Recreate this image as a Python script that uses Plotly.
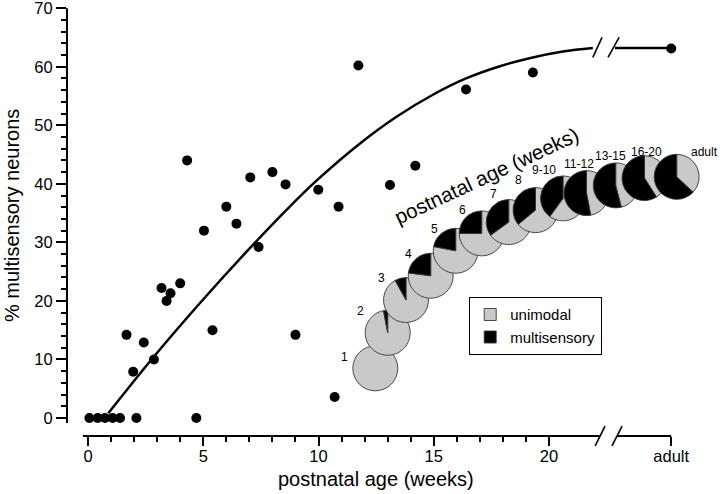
import plotly.graph_objects as go

# ---------------- data ----------------
age_weeks = [0.06, 0.42, 0.74, 1.07, 1.39, 1.67, 1.96, 2.10, 2.42, 2.86, 3.19, 3.41,
             3.58, 4.00, 4.30, 4.70, 5.03, 5.40, 6.00, 6.44, 7.04, 7.40, 8.00, 8.57,
             9.00, 9.99, 10.70, 10.87, 11.73, 13.10, 14.20, 16.40, 19.30]
pct_multisensory = [0, 0, 0, 0, 0, 14.2, 7.9, 0, 12.9, 10.0, 22.2, 20.0,
                    21.3, 23.0, 44.0, 0, 32.0, 15.0, 36.1, 33.2, 41.1, 29.2, 42.0, 39.9,
                    14.2, 39.0, 3.6, 36.1, 60.2, 39.8, 43.1, 56.1, 59.0]
adult_pct = 63.1

fit_x = [0.88, 2.8, 4.85, 6.9, 8.7, 9.9, 11.8, 13.4, 15.0, 16.4, 17.8, 19.2, 20.6, 21.9]
fit_y = [0.8, 10.2, 19.6, 28.5, 35.9, 40.5, 46.9, 51.5, 55.3, 58.0, 60.0, 61.5, 62.6, 63.2]
fit_adult = 63.2

pie_groups = ['1', '2', '3', '4', '5', '6', '7', '8', '9-10', '11-12', '13-15', '16-20', 'adult']
pie_multisensory = [0, 3, 8, 23, 22, 25, 35, 36, 40, 53, 54, 59, 63]
pie_unimodal = [100 - v for v in pie_multisensory]
slice_names = ['unimodal', 'multisensory']

x_tick_vals = [0, 5, 10, 15, 20]
x_tick_text = ['0', '5', '10', '15', '20', 'adult']
y_tick_vals = [0, 10, 20, 30, 40, 50, 60, 70]

# ---------------- layout constants ----------------
W, H = 720, 494
ML, MR, MB = 67, 8, 58
YR = [-3.073, 70.2]
PX_PER_Y = 5.857
MT = 8 - (YR[1] - 70) * PX_PER_Y      # keep the 70 tick at 8 px from the top
PW, PH = W - ML - MR, H - MT - MB
XR = [-0.911, 27.07]
ADULT_X = 25.3          # position of the "adult" category on the broken axis
AXIS_GAP = (22.2, 22.95)
FIT_RESUME = 22.86
FONT = "Liberation Sans, Arial, Helvetica, sans-serif"
GRAY = '#c9c9c9'


def xpaper(v):
    return (v - XR[0]) / (XR[1] - XR[0])


def ypaper(v):
    return (v - YR[0]) / (YR[1] - YR[0])


def px_x(p):
    return (p - ML) / PW


def px_y(p):
    return (H - MB - p) / PH


# pie inset placement (pixel centres) and label placement
PIE_R = 22.5
pie_centers = [(375.3, 368.3), (387.7, 332.7), (406, 300), (430.7, 275.7), (455.7, 250.7),
               (481.7, 233.3), (508.7, 222), (535.5, 210), (563, 198.3), (586.5, 193),
               (615.7, 185.3), (644.5, 178), (676.7, 176.7)]
label_pos = [(344, 357), (360, 311), (381, 278), (408, 253.5), (434.3, 229.3), (462.3, 210),
             (493.5, 193.5), (518.5, 180), (544, 170), (579, 163.5), (610, 155.5),
             (646, 152), (704, 152)]

fig = go.Figure()

# fitted curve
fig.add_trace(go.Scatter(x=fit_x, y=fit_y, mode='lines', line=dict(color='black', width=2.5, shape='spline'),
                         hoverinfo='skip', showlegend=False))
fig.add_trace(go.Scatter(x=[FIT_RESUME, ADULT_X], y=[fit_adult, fit_adult], mode='lines',
                         line=dict(color='black', width=2.5), hoverinfo='skip', showlegend=False))
# data points
fig.add_trace(go.Scatter(x=age_weeks, y=pct_multisensory, mode='markers',
                         marker=dict(color='black', size=10), showlegend=False))
fig.add_trace(go.Scatter(x=[ADULT_X], y=[adult_pct], mode='markers',
                         marker=dict(color='black', size=10), showlegend=False))

# pies
for i, (g, u, m) in enumerate(zip(pie_groups, pie_unimodal, pie_multisensory)):
    cx, cy = pie_centers[i]
    fig.add_trace(go.Pie(
        labels=slice_names, values=[u, m], sort=False, direction='clockwise', rotation=0,
        textinfo='none', hoverinfo='label+percent', name=g,
        marker=dict(colors=[GRAY, 'black'],
                    line=dict(color='#383838', width=[0.9, 0.9 if m > 0 else 0])),
        domain=dict(x=[px_x(cx - PIE_R), px_x(cx + PIE_R)], y=[px_y(cy + PIE_R), px_y(cy - PIE_R)]),
        showlegend=(i == len(pie_groups) - 1),
    ))

annotations = []
for g, (lx, ly) in zip(pie_groups, label_pos):
    annotations.append(dict(text=g, x=px_x(lx), y=px_y(ly), xref='paper', yref='paper',
                            showarrow=False, font=dict(size=12, color='black', family=FONT),
                            xanchor='center', yanchor='middle'))
annotations.append(dict(text='postnatal age (weeks)', x=px_x(486.5), y=px_y(175), xref='paper', yref='paper',
                        showarrow=False, textangle=-25, font=dict(size=20.5, color='black', family=FONT),
                        xanchor='center', yanchor='middle'))
annotations.append(dict(text='postnatal age (weeks)', x=px_x(375.5), y=px_y(479), xref='paper', yref='paper',
                        showarrow=False, font=dict(size=20, color='black', family=FONT),
                        xanchor='center', yanchor='middle'))
annotations.append(dict(text='% multisensory neurons', x=px_x(12), y=px_y(216), xref='paper', yref='paper',
                        showarrow=False, textangle=-90, font=dict(size=20, color='black', family=FONT),
                        xanchor='center', yanchor='middle'))

ln = dict(color='black', width=2)
shapes = [
    # y axis line
    dict(type='line', xref='paper', yref='paper', x0=0, x1=0, y0=ypaper(-0.85), y1=ypaper(70), line=ln),
    # x axis line with break
    dict(type='line', xref='paper', yref='paper', x0=xpaper(-0.22), x1=xpaper(AXIS_GAP[0]), y0=0, y1=0, line=ln),
    dict(type='line', xref='paper', yref='paper', x0=xpaper(AXIS_GAP[1]), x1=xpaper(ADULT_X), y0=0, y1=0, line=ln),
    dict(type='line', xref='paper', yref='paper', x0=xpaper(22.0), x1=xpaper(22.43), y0=-0.023, y1=0.023,
         line=dict(color='black', width=1.6)),
    dict(type='line', xref='paper', yref='paper', x0=xpaper(22.73), x1=xpaper(23.17), y0=-0.023, y1=0.023,
         line=dict(color='black', width=1.6)),
    # break marks on the fitted curve
    dict(type='line', xref='x', yref='y', x0=21.9, x1=22.3, y0=61.6, y1=65.0, line=dict(color='black', width=1.6)),
    dict(type='line', xref='x', yref='y', x0=22.56, x1=23.04, y0=61.6, y1=65.0, line=dict(color='black', width=1.6)),
]

fig.update_layout(
    width=W, height=H,
    margin=dict(l=ML, r=MR, t=MT, b=MB, autoexpand=False),
    paper_bgcolor='white', plot_bgcolor='white',
    font=dict(family=FONT, color='black', size=16.5),
    xaxis=dict(range=XR, showgrid=False, zeroline=False, showline=False, automargin=False,
               tickmode='array', tickvals=x_tick_vals + [ADULT_X], ticktext=x_tick_text,
               ticks='outside', ticklen=9, tickwidth=1.5, tickcolor='black', ticklabeloverflow='allow',
               ticklabelstandoff=-4,
               tickfont=dict(size=16.5, family=FONT, color='black'),
               minor=dict(tickmode='array', tickvals=list(range(0, 21)), ticks='outside', ticklen=5,
                          tickwidth=1.5, tickcolor='black', showgrid=False)),
    yaxis=dict(range=YR, showgrid=False, zeroline=False, showline=False, automargin=False,
               tickmode='array', tickvals=y_tick_vals,
               ticks='outside', ticklen=10, tickwidth=1.5, tickcolor='black', ticklabeloverflow='allow',
               tickfont=dict(size=16.5, family=FONT, color='black'),
               minor=dict(tickmode='array', tickvals=list(range(0, 71, 2)), ticks='outside', ticklen=5,
                          tickwidth=1.5, tickcolor='black', showgrid=False)),
    legend=dict(x=px_x(469), y=px_y(297), xanchor='left', yanchor='top',
                bordercolor='black', borderwidth=1.2, bgcolor='white',
                font=dict(size=15, family=FONT, color='black'), itemwidth=30, tracegroupgap=0),
    annotations=annotations,
    shapes=shapes,
)

fig.write_html("out.html", config={'displayModeBar': False},
               post_script="document.body.style.margin='0';")
